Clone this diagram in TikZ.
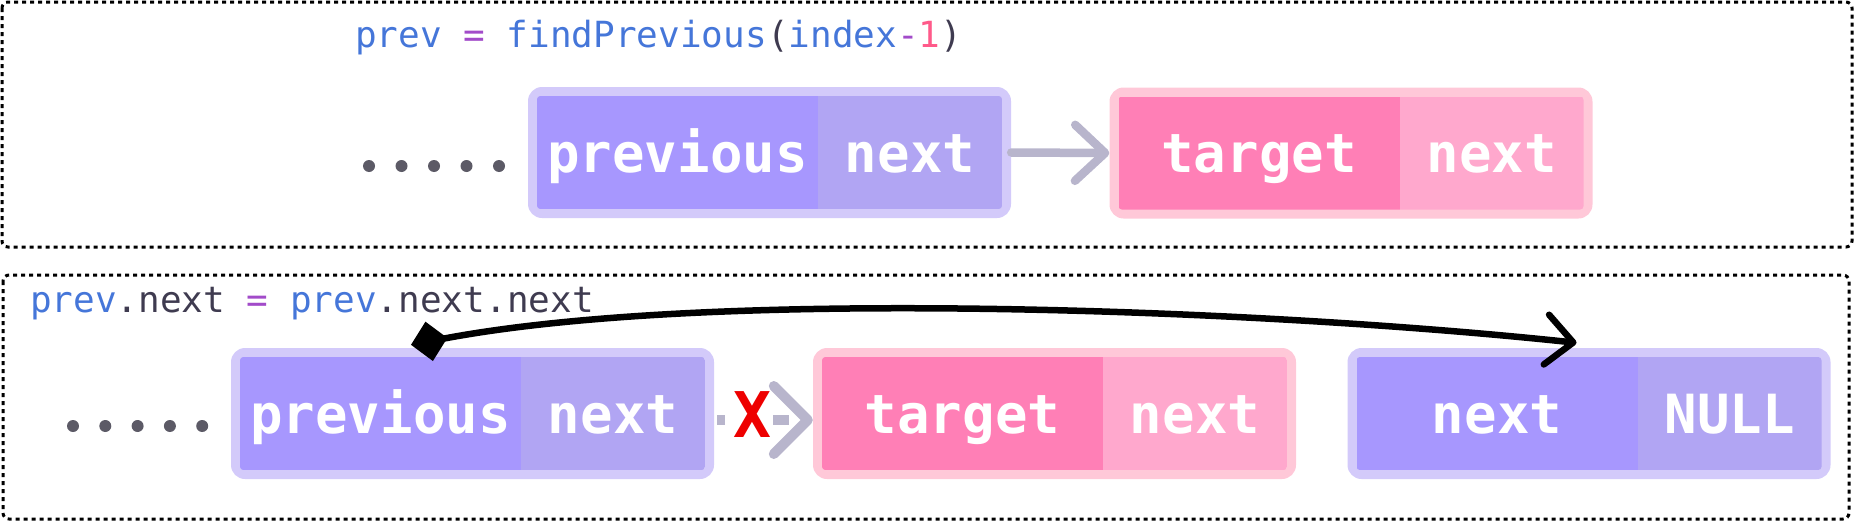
\documentclass[tikz,border=0pt]{standalone}
\usepackage{fontspec}
\usetikzlibrary{arrows.meta}
\newfontfamily\monofont{DejaVu Sans Mono}
\definecolor{pborder}{HTML}{D3CAFA}
\definecolor{pleft}{HTML}{A797FE}
\definecolor{pright}{HTML}{B1A5F3}
\definecolor{kborder}{HTML}{FFC8D8}
\definecolor{kleft}{HTML}{FF7FB6}
\definecolor{kright}{HTML}{FFA8CD}
\definecolor{codeblue}{HTML}{4576D9}
\definecolor{codepurple}{HTML}{A24BC9}
\definecolor{codedark}{HTML}{3F3B50}
\definecolor{codepink}{HTML}{FF5A8A}
\definecolor{dotgray}{HTML}{5C5A66}
\definecolor{arrowgray}{HTML}{B8B5CC}
\definecolor{xred}{HTML}{EE0000}
\tikzset{
  frame/.style={line width=3pt, dash pattern=on 4pt off 4pt, rounded corners=6pt, black},
  outerbox/.style={rectangle, rounded corners=14pt, minimum width=483pt, minimum height=131pt, inner sep=0pt},
  cell/.style={rectangle, inner sep=0pt, minimum height=113pt, text height=39pt, text depth=0pt, text=white, font=\monofont\bfseries\fontsize{54}{60}\selectfont},
  code/.style={anchor=base west, inner sep=0pt, font=\monofont\fontsize{36}{40}\selectfont},
  link/.style={arrowgray, line width=8.5pt, line cap=round},
  xmark/.style={inner sep=0pt, text=xred, font=\monofont\bfseries\fontsize{63}{66}\selectfont},
  jump/.style={black, line width=6.5pt},
}
\newcommand{\listnode}[6]{%
  \node[outerbox, fill=#6border] (#1) at (#2,#3) {};
  \begin{scope}
    \clip[rounded corners=4pt] ([xshift=9pt,yshift=9pt]#1.south west) rectangle ([xshift=-9pt,yshift=-9pt]#1.north east);
    \node[cell, fill=#6left, minimum width=281pt, anchor=west] (#1l) at ([xshift=9pt]#1.west) {#4};
    \node[cell, fill=#6right, minimum width=184pt, anchor=east] (#1r) at ([xshift=-9pt]#1.east) {#5};
  \end{scope}}
\begin{document}
\begin{tikzpicture}[x=1pt, y=-1pt]
\useasboundingbox (0,0) rectangle (1854,522);
% frames
\draw[frame] (2,2) rectangle (1852,247);
\draw[frame] (3,275) rectangle (1849,519);
% code lines
\node[code] (c1) at (355,47) {\textcolor{codeblue}{prev} \textcolor{codepurple}{=} \textcolor{codeblue}{findPrevious}\textcolor{codedark}{(}\textcolor{codeblue}{index}\textcolor{codepurple}{-}\textcolor{codepink}{1}\textcolor{codedark}{)}};
\node[code] (c2) at (30,312) {\textcolor{codeblue}{prev}\textcolor{codedark}{.next} \textcolor{codepurple}{=} \textcolor{codeblue}{prev}\textcolor{codedark}{.next.next}};
% dots
\foreach \i in {0,...,4} {
  \fill[dotgray] (369+32.5*\i,166) circle (6pt);
  \fill[dotgray] (73+32.3*\i,426) circle (6pt);
}
% nodes
\listnode{tp}{769.5}{152.5}{previous}{next}{p}
\listnode{tt}{1351}{153}{target}{next}{k}
\listnode{bp}{472.5}{413.5}{previous}{next}{p}
\listnode{bt}{1054.5}{413.5}{target}{next}{k}
\listnode{bn}{1589}{413.5}{next}{NULL}{p}
% connectors
\draw[link, -{Straight Barb[length=30pt,width=56pt,round]}] (tp.east) -- (tt.west);
\draw[link, line width=10pt, line cap=butt, dash pattern=on 0pt off 3pt on 8pt off 48pt on 16pt off 200pt,
      -{Straight Barb[length=34pt,width=68pt,round]}] ([yshift=-6.5pt]bp.east) -- ([yshift=-6.5pt]bt.west);
\node[xmark] (x) at (752.5,415) {X};
\draw[jump, {Diamond[length=37pt,width=40pt]}-{Straight Barb[length=27pt,width=50pt,round]}]
  ([xshift=30.5pt,yshift=12pt]bpl.north) .. controls (716,287) and (1269,310) .. ([xshift=79.5pt,yshift=14pt]bnl.north);
\end{tikzpicture}
\end{document}
